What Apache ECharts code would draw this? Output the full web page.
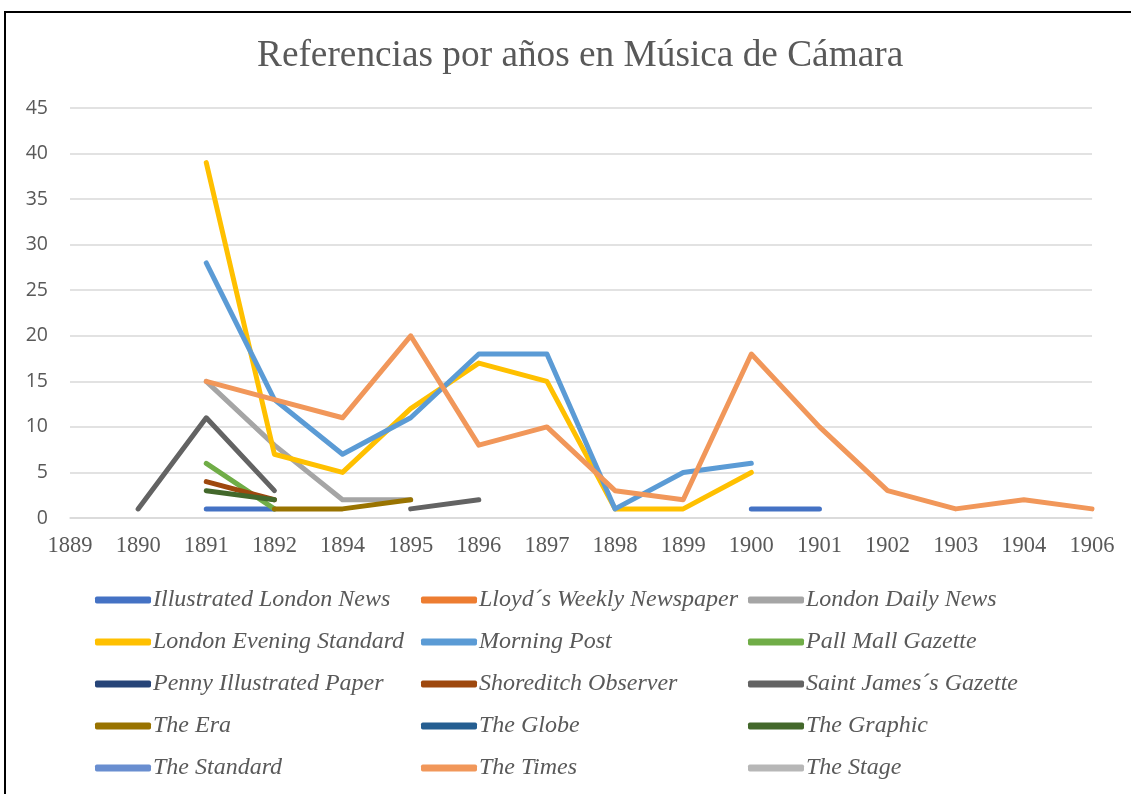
<!DOCTYPE html>
<html>
<head>
<meta charset="utf-8">
<script src="https://cdn.jsdelivr.net/npm/echarts@6/dist/echarts.min.js"></script>
<style>
  html, body { margin: 0; padding: 0; background: #fff; }
  #chart { width: 1131px; height: 794px; }
</style>
</head>
<body>
<div id="chart"></div>
<script>
// years on the category axis (1893 and 1905 are missing in the source)
var years = ['1889', '1890', '1891', '1892', '1894', '1895', '1896', '1897',
  '1898', '1899', '1900', '1901', '1902', '1903', '1904', '1906'];
var yTicks = [0, 5, 10, 15, 20, 25, 30, 35, 40, 45];

var names = ['Illustrated London News', 'Lloyd´s Weekly Newspaper', 'London Daily News',
  'London Evening Standard', 'Morning Post', 'Pall Mall Gazette',
  'Penny Illustrated Paper', 'Shoreditch Observer', 'Saint James´s Gazette',
  'The Era', 'The Globe', 'The Graphic',
  'The Standard', 'The Times', 'The Stage'];
var colors = ['#4472C4', '#ED7D31', '#A5A5A5', '#FFC000', '#5B9BD5', '#70AD47',
  '#264478', '#9E480E', '#636363', '#997300', '#255E91', '#43682B',
  '#698ED0', '#F1975A', '#B7B7B7'];

var _ = null;
//                 89 90 91  92  94  95  96  97  98  99  00  01  02  03  04  06
var illustrated = [_, _, 1,  1,  _,  _,  _,  _,  _,  _,  1,  1,  _,  _,  _,  _];
var lloyds      = [_, _, _,  _,  _,  _,  _,  _,  _,  _,  _,  _,  _,  _,  _,  _];
var dailyNews   = [_, _, 15, 8,  2,  2,  _,  _,  _,  _,  _,  _,  _,  _,  _,  _];
var evening     = [_, _, 39, 7,  5,  12, 17, 15, 1,  1,  5,  _,  _,  _,  _,  _];
var morningPost = [_, _, 28, 13, 7,  11, 18, 18, 1,  5,  6,  _,  _,  _,  _,  _];
var pallMall    = [_, _, 6,  1,  _,  _,  _,  _,  _,  _,  _,  _,  _,  _,  _,  _];
var penny       = [_, _, _,  _,  _,  _,  _,  _,  _,  _,  _,  _,  _,  _,  _,  _];
var shoreditch  = [_, _, 4,  2,  _,  _,  _,  _,  _,  _,  _,  _,  _,  _,  _,  _];
var saintJames  = [_, 1, 11, 3,  _,  1,  2,  _,  _,  _,  _,  _,  _,  _,  _,  _];
var theEra      = [_, _, _,  1,  1,  2,  _,  _,  _,  _,  _,  _,  _,  _,  _,  _];
var theGlobe    = [_, _, _,  _,  _,  _,  _,  _,  _,  _,  _,  _,  _,  _,  _,  _];
var theGraphic  = [_, _, 3,  2,  _,  _,  _,  _,  _,  _,  _,  _,  _,  _,  _,  _];
var theStandard = [_, _, _,  _,  _,  _,  _,  _,  _,  _,  _,  _,  _,  _,  _,  _];
var theTimes    = [_, _, 15, 13, 11, 20, 8,  10, 3,  2,  18, 10, 3,  1,  2,  1];
var theStage    = [_, _, _,  _,  _,  _,  _,  _,  _,  _,  _,  _,  _,  _,  _,  _];

var values = [illustrated, lloyds, dailyNews, evening, morningPost, pallMall,
  penny, shoreditch, saintJames, theEra, theGlobe, theGraphic,
  theStandard, theTimes, theStage];

var serif = '"Liberation Serif", "Times New Roman", serif';
var textColor = '#595959';

var series = names.map(function (name, i) {
  return {
    name: name,
    type: 'line',
    data: values[i],
    showSymbol: false,
    symbol: 'none',
    connectNulls: false,
    lineStyle: { width: 5, color: colors[i], cap: 'round', join: 'round' },
    itemStyle: { color: colors[i] },
    emphasis: { disabled: true }
  };
});

// three legend columns, five rows each
var legends = [0, 1, 2].map(function (col) {
  return {
    orient: 'vertical',
    left: [95, 421, 748][col],
    top: 579,
    height: 300,
    padding: 0,
    itemGap: 0,
    itemWidth: 56,
    itemHeight: 7,
    icon: 'roundRect',
    data: names.filter(function (n, i) { return i % 3 === col; }),
    textStyle: {
      fontFamily: serif,
      fontStyle: 'italic',
      fontSize: 24,
      color: textColor,
      lineHeight: 42,
      padding: [0, 0, 0, -3]
    }
  };
});

var chart = echarts.init(document.getElementById('chart'));
chart.setOption({
  animation: false,
  backgroundColor: '#fff',
  color: colors,
  title: {
    text: 'Referencias por años en Música de Cámara',
    left: 252,
    top: 33,
    textStyle: { fontFamily: serif, fontWeight: 'normal', fontSize: 37.3, color: textColor }
  },
  legend: legends,
  grid: { left: 70, right: 39, top: 108, bottom: 276, containLabel: false },
  xAxis: {
    type: 'category',
    data: years,
    boundaryGap: false,
    axisLine: { lineStyle: { color: '#d9d9d9', width: 1.5 } },
    axisTick: { show: false },
    axisLabel: { fontFamily: serif, fontSize: 22.5, color: textColor, margin: 17 }
  },
  yAxis: {
    type: 'value',
    min: yTicks[0],
    max: yTicks[yTicks.length - 1],
    interval: 5,
    axisLine: { show: false },
    axisTick: { show: false },
    splitLine: { lineStyle: { color: '#d9d9d9', width: 1.5 } },
    axisLabel: { fontFamily: '"Open Sans", "Noto Sans", sans-serif', fontSize: 19.5, color: textColor, margin: 22 }
  },
  graphic: [{
    type: 'rect',
    shape: { x: 5, y: 12, width: 1140, height: 800 },
    style: { fill: 'none', stroke: '#000', lineWidth: 2 },
    silent: true
  }],
  series: series
});
</script>
</body>
</html>
